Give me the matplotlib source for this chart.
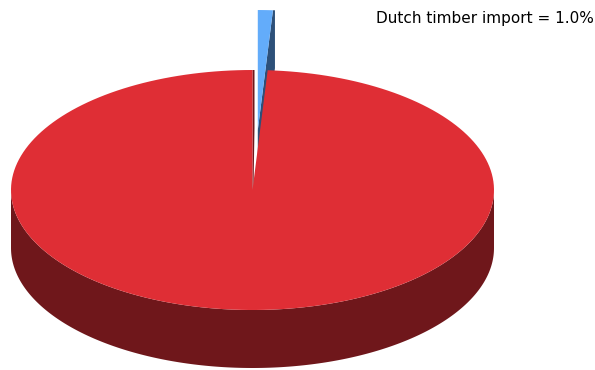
import numpy as np
import matplotlib.pyplot as plt
from matplotlib.patches import Polygon

# slice data
labels = ['Dutch timber import', 'Other']
values = [1.0, 99.0]
top_colors = ['#63acfa', '#df2e35']
side_colors = ['#2d5079', '#6f171b']
exploded = [True, False]
shown_label = 'Dutch timber import'

# pie geometry in pixel units (y grows downward)
cx, cy = 252.5, 190.0
rx, ry = 241.5, 120.0
depth = 58.0
slice_offset = 60.0


def rim(center, theta):
    # theta in radians, clockwise from 12 o'clock
    return (center[0] + rx * np.sin(theta), center[1] - ry * np.cos(theta))


def arc(center, t1, t2, n=200):
    ts = np.linspace(t1, t2, n)
    return [rim(center, t) for t in ts]


def draw_slice(ax, t1, t2, center, top_col, side_col, z):
    # radial face on the closing edge
    a = center
    p = rim(center, t2)
    face = [a, p, (p[0] + 2, p[1]), (p[0] + 2, p[1] + depth), (a[0], a[1] + depth)]
    ax.add_patch(Polygon(face, closed=True, facecolor=side_col, edgecolor='none', zorder=z))

    # outer wall, only the part that faces the viewer
    lo = max(t1, np.pi / 2)
    hi = min(t2, 3 * np.pi / 2)
    if hi > lo:
        upper = arc(center, lo, hi)
        lower = [(x, y + depth) for x, y in reversed(upper)]
        ax.add_patch(Polygon(upper + lower, closed=True, facecolor=side_col,
                             edgecolor='none', zorder=z + 1))

    # top face
    top = [center] + arc(center, t1, t2)
    ax.add_patch(Polygon(top, closed=True, facecolor=top_col, edgecolor='none',
                         antialiased=True, zorder=z + 2))


fig = plt.figure(figsize=(5.95, 3.70), dpi=100)
ax = fig.add_axes([0, 0, 1, 1])
ax.set_xlim(0, 595)
ax.set_ylim(370, 0)
ax.axis('off')

total = sum(values)
start = 0.0
z = 1
for lab, val, tc, sc, ex in zip(labels, values, top_colors, side_colors, exploded):
    t1 = start
    t2 = start + 2 * np.pi * val / total
    mid = (t1 + t2) / 2
    center = (cx, cy)
    if ex:
        center = (cx + 1.5 + slice_offset * (rx / ry) * np.sin(mid),
                  cy - slice_offset * np.cos(mid))
    draw_slice(ax, t1, t2, center, tc, sc, z)
    if lab == shown_label:
        ax.text(376, 18, f'{lab} = {val:.1f}%', fontsize=11, color='#000000',
                ha='left', va='center', zorder=10)
    start = t2
    z += 3

fig.savefig('out.png', dpi=100)
